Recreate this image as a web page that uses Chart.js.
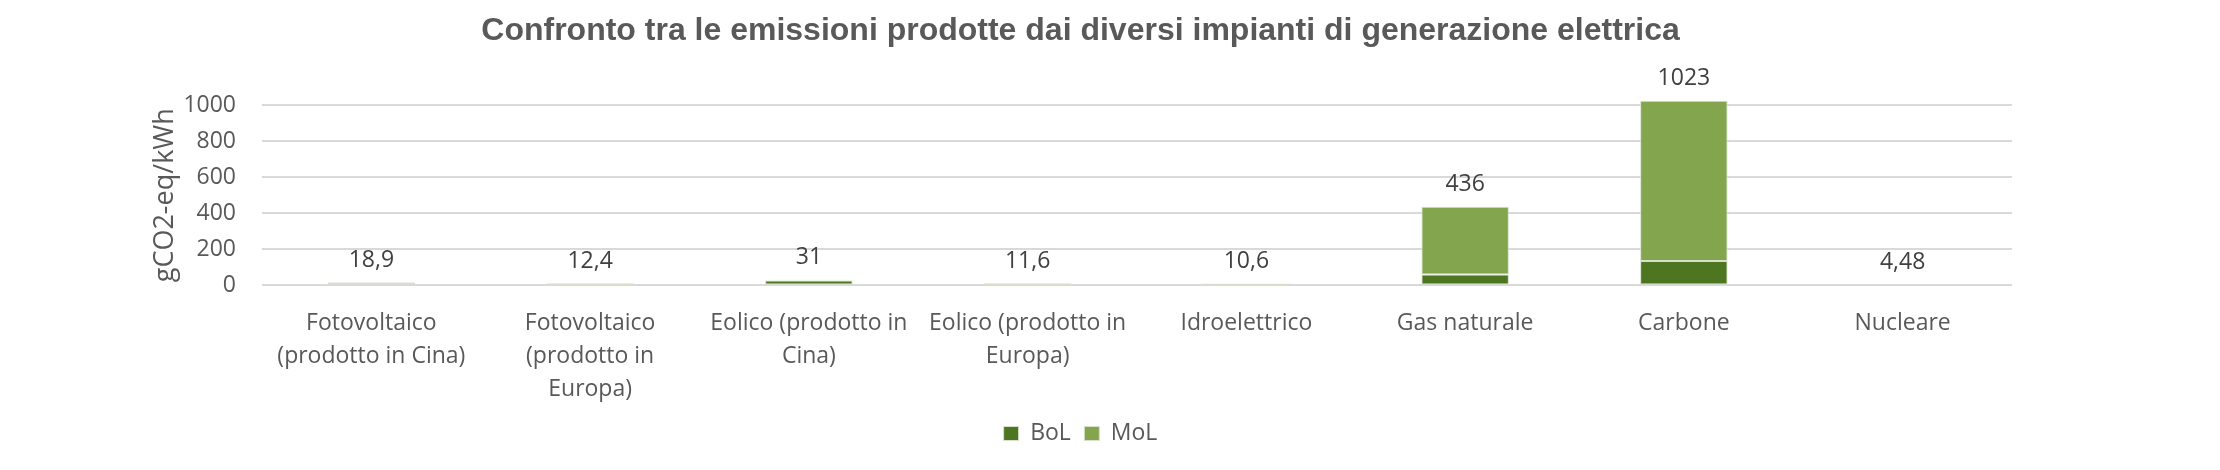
<!DOCTYPE html>
<html>
<head>
<meta charset="utf-8">
<script src="https://cdn.jsdelivr.net/npm/chart.js@4.4.1/dist/chart.umd.min.js"></script>
<style>
  body { margin: 0; background: #ffffff; }
  #wrap { width: 2220px; height: 470px; }
</style>
</head>
<body>
<div id="wrap"><canvas id="myChart" width="2156" height="470"></canvas></div>
<script>
// categories (multi line labels, as in the original)
var categories = [
  ["Fotovoltaico", "(prodotto in Cina)"],
  ["Fotovoltaico", "(prodotto in", "Europa)"],
  ["Eolico (prodotto in", "Cina)"],
  ["Eolico (prodotto in", "Europa)"],
  ["Idroelettrico"],
  ["Gas naturale"],
  ["Carbone"],
  ["Nucleare"]
];

// gCO2-eq/kWh
var bol = [16, 1, 27, 1, 1, 60, 136, 0.5];
var mol = [2.9, 11.4, 4, 10.6, 9.6, 376, 887, 3.98];

var yTicks = [0, 200, 400, 600, 800, 1000];

var chartTitle = "Confronto tra le emissioni prodotte dai diversi impianti di generazione elettrica";
var yTitle = "gCO2-eq/kWh";

function formatValue(v) {
  var r = Math.round(v * 100) / 100;
  return String(r).replace(".", ",");
}

// totals written above each stacked column
var totalLabels = {
  id: "totalLabels",
  afterDatasetsDraw: function(chart) {
    var ctx = chart.ctx;
    var meta = chart.getDatasetMeta(1);
    ctx.save();
    ctx.font = '23px "Open Sans"';
    ctx.fillStyle = "#404040";
    ctx.textAlign = "center";
    ctx.textBaseline = "middle";
    meta.data.forEach(function(bar, i) {
      ctx.fillText(formatValue(bol[i] + mol[i]), bar.x, bar.y - 22);
    });
    ctx.restore();
  }
};

window.onload = function() {
  var ctx = document.getElementById("myChart").getContext("2d");
  var chart = new Chart(ctx, {
    type: "bar",
    data: {
      labels: categories,
      datasets: [
        {
          label: "BoL",
          data: bol,
          backgroundColor: "#4e7520",
          borderColor: "#d8e0cc",
          borderWidth: 1,
          borderSkipped: false,
          clip: false
        },
        {
          label: "MoL",
          data: mol,
          backgroundColor: "#82a54e",
          borderColor: "#d8e0cc",
          borderWidth: 1,
          borderSkipped: false,
          clip: false
        }
      ]
    },
    options: {
      responsive: false,
      animation: false,
      devicePixelRatio: 1,
      datasets: {
        bar: { barPercentage: 0.4, categoryPercentage: 1 }
      },
      layout: {
        padding: { left: 149, right: 144, top: 0, bottom: 15 }
      },
      plugins: {
        title: {
          display: true,
          text: chartTitle,
          color: "#595959",
          font: { family: "Liberation Sans", size: 32, weight: "bold", lineHeight: 1.2 },
          padding: { top: 12, bottom: 54.6 }
        },
        legend: {
          position: "bottom",
          labels: {
            color: "#595959",
            boxWidth: 15,
            boxHeight: 14,
            padding: 13.5,
            font: { family: "Open Sans", size: 23 }
          }
        },
        tooltip: { enabled: false }
      },
      scales: {
        x: {
          stacked: true,
          grid: { display: false, drawTicks: false },
          border: { display: false },
          ticks: {
            color: "#595959",
            padding: 21,
            autoSkip: false,
            maxRotation: 0,
            font: { family: "Open Sans", size: 23, lineHeight: 1.45 }
          },
          afterFit: function(scale) {
            scale.height -= 19;
          }
        },
        y: {
          stacked: true,
          min: 0,
          max: 1000,
          afterBuildTicks: function(scale) {
            scale.ticks = yTicks.map(function(v) { return { value: v }; });
          },
          afterFit: function(scale) {
            scale.width = 113;
          },
          grid: { color: "#d9d9d9", lineWidth: 2, drawTicks: false },
          border: { display: false },
          ticks: {
            color: "#595959",
            padding: 26,
            font: { family: "Open Sans", size: 23 },
            callback: function(value) { return String(value); }
          },
          title: {
            display: true,
            text: yTitle,
            color: "#595959",
            font: { family: "Open Sans", size: 27, lineHeight: 1.2 },
            padding: { top: 0, bottom: 3 }
          }
        }
      }
    },
    plugins: [totalLabels]
  });
};
</script>
</body>
</html>
